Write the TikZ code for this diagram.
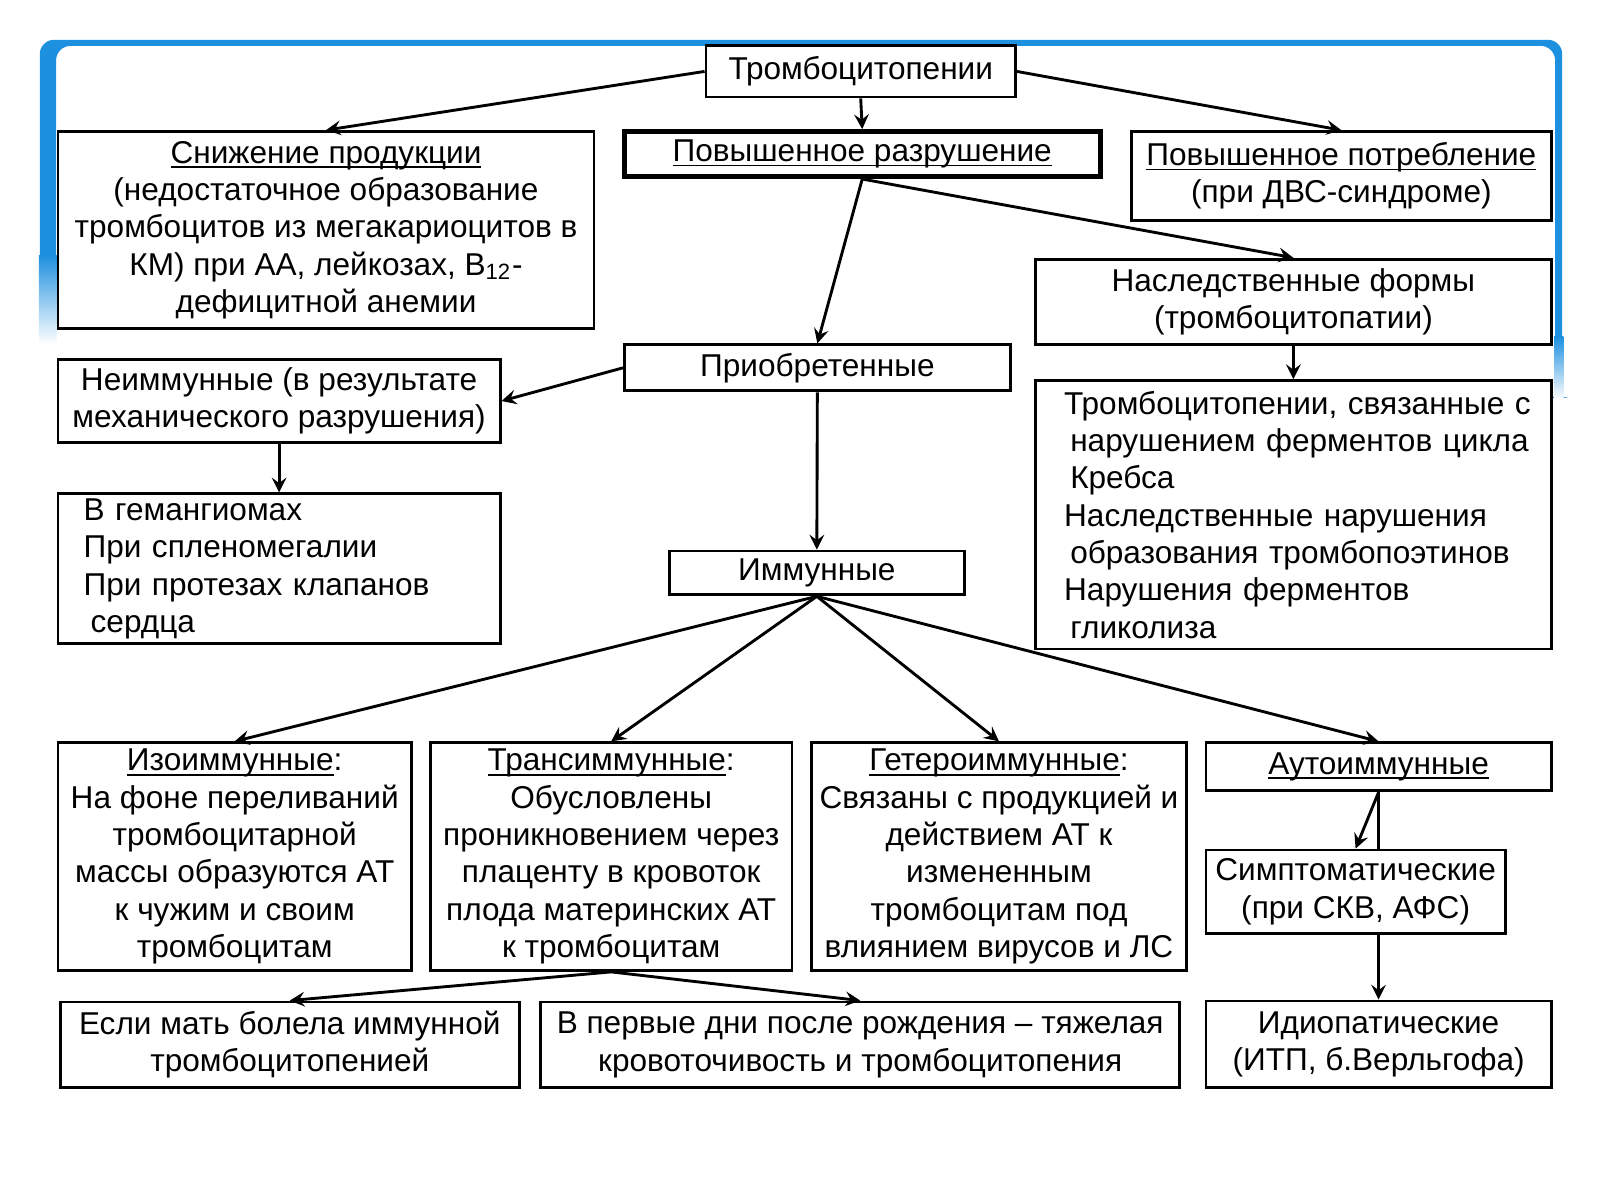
\documentclass[tikz,border=0pt]{standalone}
\usepackage{fontspec}
\setmainfont{Liberation Sans}
\usetikzlibrary{arrows}
\usetikzlibrary{backgrounds}
\definecolor{frameblue}{RGB}{30,144,224}
\newcommand{\lineind}[1][0.28cm]{\hspace*{#1}}
\newcommand{\undl}[1]{\setbox0\hbox{#1}\rlap{\rule[-1.3pt]{\wd0}{0.5pt}}\box0}

\begin{document}
\begin{tikzpicture}[
            x = 0.01cm, y = -0.01cm, % pixel units, y going down
            > = stealth, % arrow head style
            line width = 0.8pt,
            font = \fontsize{8.8}{10.4}\selectfont
        ]

        \tikzstyle{box}=[
            draw,
            fill = white,
            align = center,
            inner sep = 0pt
        ]

        \useasboundingbox (0,0) rectangle (1568,1176);

        % blue slide frame
        \fill[frameblue, rounded corners=4pt, even odd rule]
            (39,335) -- (39,39) -- (1531,39) -- (1531,390) -- (1524,390)
            -- (1524,45) -- (55,45) -- (55,335) -- cycle;
        \shade[top color=frameblue, bottom color=white] (38,250) rectangle (56,337);
        \shade[top color=frameblue, bottom color=white] (1523,330) rectangle (1532,392);

        % top level
        \node[box, minimum width=3.03cm, minimum height=0.50cm] (root) at (843.5,70) {Тромбоцитопении};

        \node[box, minimum width=5.25cm, minimum height=1.93cm] (prod) at (319.5,225.5)
            {\undl{Снижение продукции}\\(недостаточное образование\\тромбоцитов из мегакариоцитов в\\КМ) при АА, лейкозах, В\textsubscript{12}-\\дефицитной анемии};
        \node[box, line width=1.4pt, minimum width=4.66cm, minimum height=0.44cm] (destr) at (845,151)
            {\undl{Повышенное разрушение}};
        \node[box, minimum width=4.11cm, minimum height=0.87cm] (cons) at (1314.5,172.5)
            {\undl{Повышенное потребление}\\(при ДВС-синдроме)};

        \path[->] (root.west) edge (prod.north);
        \path[->] (root.south) edge (destr.north);
        \path[->] (root.east) edge (cons.north);

        % destruction
        \node[box, minimum width=5.05cm, minimum height=0.84cm] (hered) at (1267.5,296)
            {Наследственные формы\\(тромбоцитопатии)};
        \node[box, minimum width=3.78cm, minimum height=0.45cm] (acq) at (801,360.5) {Приобретенные};
        \node[box, minimum width=5.05cm, minimum height=2.63cm, text width=5.05cm, align=left] (hlist) at (1267.5,504.5)
            {\lineind Тромбоцитопении, связанные с\\\lineind[0.34cm]нарушением ферментов цикла\\\lineind[0.34cm]Кребса\\\lineind Наследственные нарушения\\\lineind[0.34cm]образования тромбопоэтинов\\\lineind Нарушения ферментов\\\lineind[0.34cm]гликолиза};

        \path[->] (destr.south) edge (acq.north);
        \path[->] (destr.south) edge (hered.north);
        \path[->] (hered.south) edge (hlist.north);

        % acquired
        \node[box, minimum width=4.33cm, minimum height=0.82cm] (nonimm) at (273.5,393)
            {Неиммунные (в результате\\механического разрушения)};
        \node[box, minimum width=4.33cm, minimum height=1.47cm, text width=4.33cm, align=left] (mech) at (273.5,557.5)
            {\lineind[0.25cm]В гемангиомах\\\lineind[0.25cm]При спленомегалии\\\lineind[0.25cm]При протезах клапанов\\\lineind[0.32cm]сердца};
        \node[box, minimum width=2.89cm, minimum height=0.43cm] (imm) at (800.5,561.5) {Иммунные};

        \path[->] (acq.west) edge (nonimm.east);
        \path[->] (nonimm.south) edge (mech.north);
        \path[->] (acq.south) edge (imm.north);

        % immune forms
        \node[box, minimum width=3.46cm, minimum height=2.23cm] (iso) at (230,839.5)
            {\undl{Изоиммунные}:\\На фоне переливаний\\тромбоцитарной\\массы образуются АТ\\к чужим и своим\\тромбоцитам};
        \node[box, minimum width=3.54cm, minimum height=2.23cm] (trans) at (599,839.5)
            {\undl{Трансиммунные}:\\Обусловлены\\проникновением через\\плаценту в кровоток\\плода материнских АТ\\к тромбоцитам};
        \node[box, minimum width=3.68cm, minimum height=2.23cm] (hetero) at (979,839.5)
            {\undl{Гетероиммунные}:\\Связаны с продукцией и\\действием АТ к\\измененным\\тромбоцитам под\\влиянием вирусов и ЛС};
        \node[box, minimum width=3.38cm, minimum height=0.47cm] (auto) at (1351,751.5)
            {\undl{Аутоиммунные}};

        \path[->] (imm.south) edge (iso.north);
        \path[->] (imm.south) edge (trans.north);
        \path[->] (imm.south) edge (hetero.north);
        \path[->] (imm.south) edge (auto.north);

        % bottom row
        \node[box, minimum width=2.93cm, minimum height=0.82cm] (sympt) at (1328.5,874)
            {Симптоматические\\(при СКВ, АФС)};
        \node[box, minimum width=3.38cm, minimum height=0.85cm] (idio) at (1351,1023.5)
            {Идиопатические\\(ИТП, б.Верльгофа)};
        \node[box, minimum width=4.50cm, minimum height=0.84cm] (mother) at (284,1024)
            {Если мать болела иммунной\\тромбоцитопенией};
        \node[box, minimum width=6.26cm, minimum height=0.84cm] (newborn) at (843,1024)
            {В первые дни после рождения – тяжелая\\кровоточивость и тромбоцитопения};

        \path[->] (auto.south) edge (sympt.north);
        \path[->] (trans.south) edge (mother.north);
        \path[->] (trans.south) edge (newborn.north);

        \begin{scope}[on background layer]
        \draw[->, line width=0.8pt] (auto.south) -- (idio.north);
        \end{scope}

  \end{tikzpicture}
\end{document}
